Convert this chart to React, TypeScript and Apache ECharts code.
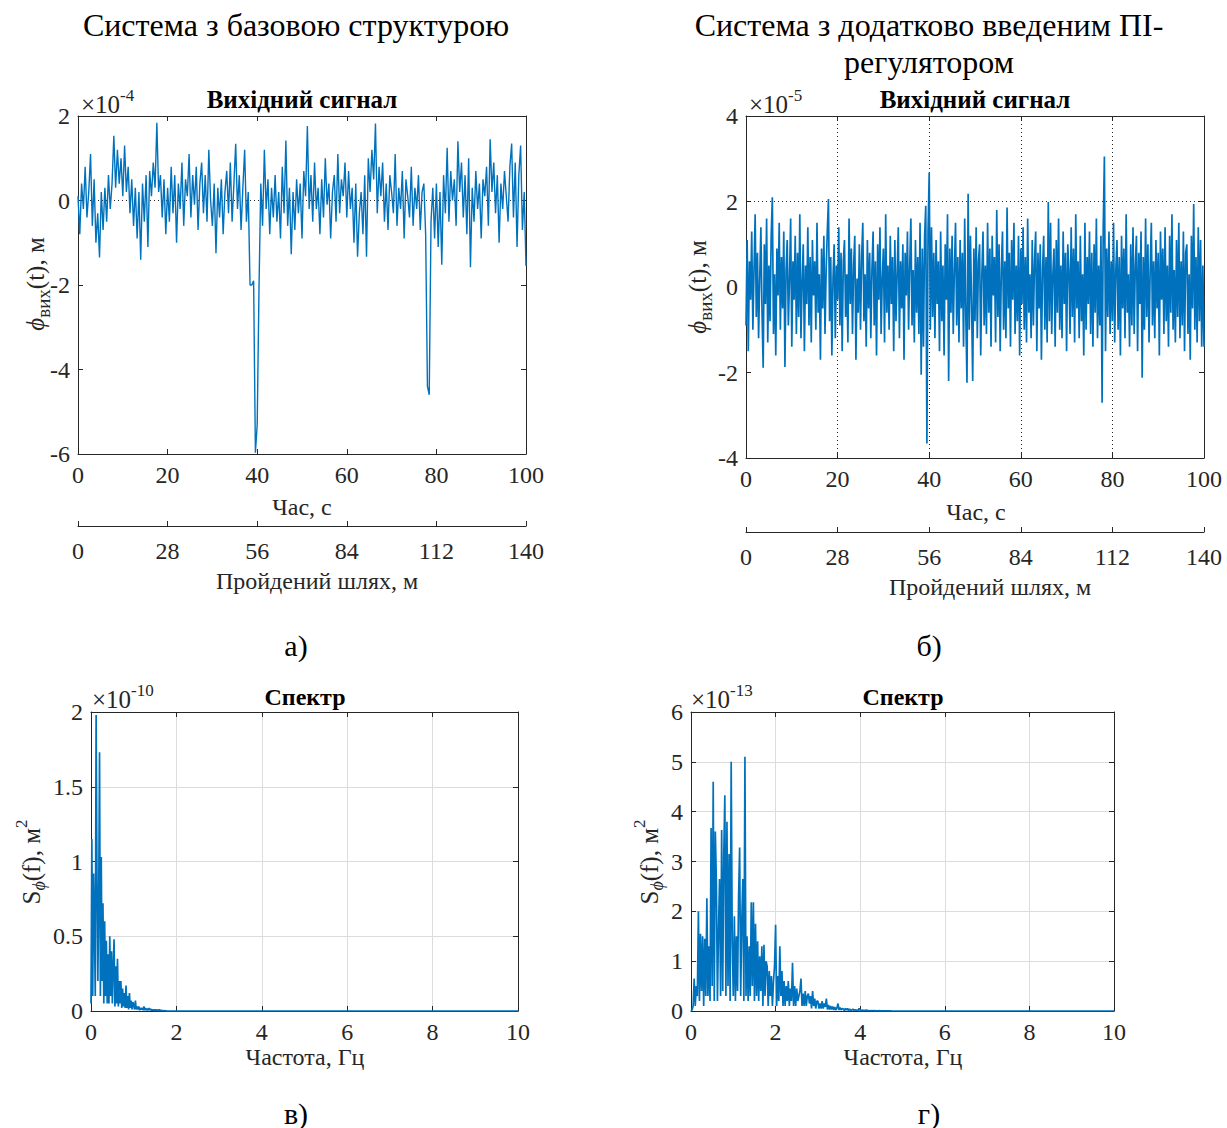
import React, { useEffect, useRef } from "react";
import * as echarts from "echarts";

// ---------- data (values in the units shown on each axis) ----------
// Output signal, base structure (×10^-4 m), sampled every 0.4 s from 0 to 100 s
const baseStep = 0.4;
const outputBase = [
  0.1, -0.8, 0.4, -0.2, 0.8, -0.4, 0.2, 1.1, -0.6, 0.5,
  -1.0, -0.3, -1.35, 0.2, -0.7, 0.3, -0.5, 0.6, -0.2, 0.4,
  1.53, 0.3, 1.2, 0.4, 1.0, 0.1, 1.3, 0.2, 0.8, -0.3,
  0.5, -0.6, 0.3, -0.9, 0.2, -1.4, 0.4, -0.5, 0.6, -1.1,
  0.7, 0.1, 0.9, 0.3, 1.84, 0.2, 0.6, -0.4, 0.5, -0.8,
  0.3, -0.5, 0.8, -0.3, 0.6, -1.0, 0.4, -0.2, 0.9, -0.6,
  0.5, 0.1, 1.1, -0.4, 0.6, -0.1, 0.8, -0.7, 0.4, 0.9,
  -0.3, 0.6, -0.5, 1.2, 0.0, -0.6, 0.4, -1.25, 0.3, -0.4,
  0.5, -0.8, 0.2, 0.7, -0.3, 0.9, -0.5, 0.4, 1.34, -0.2,
  0.6, -0.7, 0.3, 1.2, -0.5, 0.2, -2.0, -2.0, -1.9, -5.97,
  -5.3, -2.1, 0.4, -0.6, 1.2, -0.2, 0.5, -0.8, 0.3, -0.4,
  0.6, -0.5, 0.2, -0.9, 0.8, -0.3, 1.42, -0.6, 0.3, -1.27,
  0.2, -0.7, 0.5, -0.3, 0.4, -0.9, 0.7, 0.1, 1.76, -0.2,
  0.6, -0.5, 0.9, -0.2, 0.3, -0.8, 0.5, -0.4, 1.0, -0.1,
  0.4, -0.9, 0.2, 0.6, -0.5, 1.1, -0.3, 0.5, 0.1, 0.9,
  -0.4, 0.7, -0.2, 0.3, -1.0, 0.4, -1.33, -0.3, 0.2, -0.8,
  0.6, -1.33, 1.0, 0.2, 1.2, 0.5, 1.82, -0.3, 0.8, 0.1,
  0.9, -0.5, 0.4, -0.7, 0.6, 0.2, -0.3, 1.1, -0.6, 0.3,
  -0.2, 0.7, -0.9, 0.5, 0.1, -0.4, 0.8, -0.6, 0.3, -0.2,
  0.6, -0.7, 0.2, 0.4, -0.8, -4.4, -4.6, -0.5, 0.3, -0.9,
  0.4, -1.1, 0.2, -1.52, 0.6, -0.3, 1.25, -0.5, 0.7, 0.0,
  0.5, -0.6, 1.4, 0.2, 0.9, -0.4, 0.6, -0.8, 1.0, -1.58,
  0.3, -0.5, 0.7, -0.2, 0.4, -0.9, 0.5, 0.1, 0.8, -0.6,
  1.45, 0.2, 0.9, -0.3, 0.6, -1.0, 0.4, -0.2, 0.7, 0.1,
  -0.5, 0.8, 1.35, -0.4, 0.9, -1.1, 0.6, 1.3, -0.7, 0.2, -1.55,
];

// Output signal with PI regulator (×10^-5 m), sampled every 0.25 s from 0 to 100 s
const piStep = 0.25;
const outputPI = [
  -0.9, 1.1, -1.5, 0.6, -0.3, 1.3, -1.0, 0.4, 1.7, -0.7,
  0.8, -1.2, 0.2, 1.4, -0.6, -1.89, 1.0, -0.4, 1.6, -1.3,
  0.5, -0.8, 1.2, 2.1, -1.1, 0.3, -1.6, 0.9, -0.2, 1.5,
  -1.0, 0.7, -0.5, 1.3, -1.87, 0.4, 1.1, -0.9, 0.2, 1.6,
  -1.4, 0.6, -0.3, 1.2, -1.1, 0.8, -0.7, 1.7, -1.2, 0.1,
  1.0, -1.5, 0.5, -0.4, 1.4, -0.9, 0.7, -1.3, 1.1, -0.2,
  0.6, -1.0, 1.5, -0.6, 0.3, -1.7, 0.9, -0.5, 1.2, -1.1,
  0.4, 1.3, 2.06, -0.8, 0.7, -1.6, 0.2, 1.0, -1.2, 0.5,
  -0.3, 1.4, -0.9, 0.8, -1.5, 0.6, 1.1, -0.7, 0.3, -1.3,
  1.6, -0.4, 0.9, -1.1, 0.5, 1.2, -1.7, 0.2, -0.6, 1.0,
  -1.0, 0.7, 1.5, -0.8, 0.3, -1.4, 1.1, -0.5, 0.8, -1.2,
  0.4, 1.3, -0.9, 0.6, -1.6, 1.0, -0.3, 1.4, -1.1, 0.2,
  0.9, -1.3, 1.7, -0.6, 0.5, -1.0, 1.2, -0.4, 0.7, -1.5,
  1.1, -0.8, 0.3, 1.4, -1.2, 0.6, -0.5, 1.0, -1.7, 0.8,
  -0.2, 1.3, -1.0, 0.5, 1.6, -0.9, 0.4, -1.3, 1.1, -0.6,
  0.7, -1.1, 1.5, -2.05, 0.9, -1.4, 1.2, 1.9, -3.66, 1.3,
  2.68, -1.0, 1.4, -0.7, 0.8, -1.2, 1.1, -0.4, 0.6, -1.5,
  1.3, -0.8, 0.5, -1.6, 1.0, -0.3, 1.7, -2.2, 0.9, -0.6,
  1.2, -1.1, 0.4, 1.5, -0.9, 0.7, -1.3, 1.1, -0.5, 0.8,
  -1.4, 1.6, -0.7, -2.24, 2.18, -1.0, 1.2, -0.4, -2.2, 0.9,
  -0.8, 1.4, -1.2, 0.6, 1.0, -1.6, 0.3, 1.3, -0.9, 0.5,
  -1.1, 1.5, -0.6, 0.9, -1.4, 1.2, -0.2, 0.7, -1.3, 1.8,
  -0.7, 1.0, -1.5, 0.4, 1.3, -1.0, 0.6, -1.2, 1.86, -0.5,
  0.8, -1.4, 1.1, -0.3, 1.5, -1.1, 0.5, -0.8, 1.2, -1.6,
  0.9, -0.4, 1.4, -1.0, 0.7, -1.3, 1.6, -0.6, 0.3, -1.2,
  1.1, -0.9, 0.6, 1.3, -1.5, 0.8, -0.5, 1.0, -1.7, 0.4,
  1.2, -1.0, 0.7, -1.3, 1.99, -0.8, 1.5, -1.1, 0.3, 0.9,
  -1.4, 1.1, -0.6, 1.6, -1.0, 0.5, -1.2, 1.3, -0.4, 0.8,
  -1.5, 1.0, 0.4, -1.1, 1.4, -0.7, 0.9, -1.3, 1.7, -0.5,
  0.6, -1.2, 1.2, -0.8, 0.3, -1.6, 1.5, -1.0, 0.7, -0.4,
  1.3, -1.1, 0.8, -1.4, 1.0, -0.6, 1.6, -1.2, 0.5, -0.9,
  1.2, -2.71, 1.4, 3.05, -1.5, 0.9, -0.7, 1.3, -1.1, 0.6,
  -0.8, 1.5, -1.3, 0.4, 1.1, -1.0, 0.7, -1.6, 1.2, -0.5,
  0.9, -1.2, 1.7, -0.6, 0.3, -1.4, 1.0, -0.9, 1.4, -1.1,
  0.5, 1.2, -1.5, 0.8, -0.4, 1.3, -2.12, 0.7, -1.0, 1.6,
  -0.7, 1.0, -1.3, 0.4, 1.5, -0.9, 0.6, -1.2, 1.1, -0.5,
  0.8, -1.6, 1.3, -0.3, 0.9, -1.1, 1.4, -0.8, 0.5, -1.4,
  1.2, -0.6, 1.7, -1.0, 0.4, -1.3, 1.1, -0.7, 1.5, -1.2,
  0.6, -0.9, 1.3, -1.5, 0.8, 1.0, -1.1, 0.3, -1.7, 1.2,
  -0.5, 1.94, -1.0, 0.7, -1.3, 1.4, -0.8, 1.1, -1.4, 0.5,
  -1.4,
];

// Spectrum, base structure (×10^-10 m²), every 0.02 Hz from 0 to 1.8 Hz
const specBaseStep = 0.02;
const spectrumBase = [
  0.05, 1.15, 0.1, 0.92, 0.6, 0.1, 1.98, 0.9, 0.2, 0.72,
  1.73, 0.1, 1.03, 0.2, 0.72, 0.05, 0.6, 0.1, 0.47, 0.05,
  0.38, 0.05, 0.5, 0.1, 0.4, 0.05, 0.3, 0.48, 0.03, 0.3,
  0.05, 0.35, 0.03, 0.2, 0.05, 0.2, 0.02, 0.15, 0.03, 0.12,
  0.02, 0.17, 0.02, 0.1, 0.01, 0.12, 0.02, 0.07, 0.01, 0.06,
  0.04, 0.01, 0.07, 0.01, 0.03, 0.01, 0.03, 0.005, 0.02, 0.01,
  0.02, 0.005, 0.03, 0.005, 0.02, 0.005, 0.015, 0.005, 0.02, 0.005,
  0.015, 0.003, 0.01, 0.003, 0.01, 0.002, 0.01, 0.002, 0.008, 0.002,
  0.01, 0.002, 0.005, 0.001, 0.003, 0.001, 0.002, 0.001, 0.001, 0, 0,
];

// Spectrum with PI regulator (×10^-13 m²), every 0.025 Hz from 0 to 4.8 Hz
const specPIStep = 0.025;
const spectrumPI = [
  0, 0.02, 0.1, 0.65, 0.1, 0.5, 0.3, 2.0,
  0.2, 1.55, 0.4, 1.5, 0.1, 1.45, 0.3, 2.26,
  0.3, 1.3, 0.2, 3.67, 0.5, 4.6, 0.2, 3.6,
  2.6, 0.2, 1.6, 2.65, 0.3, 3.63, 0.4, 3.15,
  4.33, 0.3, 3.8, 0.5, 3.15, 0.2, 5.0, 1.4,
  0.3, 1.9, 0.2, 1.5, 0.4, 2.3, 3.28, 0.3,
  1.8, 2.65, 0.2, 5.1, 0.3, 1.5, 0.2, 1.3,
  0.3, 2.18, 0.5, 2.18, 0.2, 1.75, 0.3, 1.4,
  0.2, 1.1, 0.4, 1.3, 0.1, 1.33, 0.3, 1.0,
  0.9, 0.1, 0.8, 0.3, 0.7, 0.1, 0.6, 0.9,
  1.73, 0.1, 0.7, 0.2, 1.3, 0.3, 0.8, 0.1,
  0.6, 0.1, 0.5, 0.2, 0.6, 0.1, 0.45, 0.2,
  0.97, 0.1, 0.5, 0.1, 0.45, 0.2, 0.3, 0.4,
  0.65, 0.1, 0.35, 0.1, 0.4, 0.1, 0.3, 0.35,
  0.15, 0.3, 0.05, 0.4, 0.1, 0.25, 0.05, 0.2,
  0.2, 0.05, 0.15, 0.05, 0.2, 0.05, 0.15, 0.08,
  0.25, 0.03, 0.12, 0.03, 0.1, 0.03, 0.09, 0.02,
  0.08, 0.02, 0.06, 0.15, 0.02, 0.07, 0.02, 0.05,
  0.04, 0.01, 0.05, 0.02, 0.05, 0.01, 0.04, 0.01,
  0.02, 0.04, 0.01, 0.03, 0.01, 0.02, 0.01, 0.05,
  0.02, 0.005, 0.02, 0.005, 0.015, 0.005, 0.02, 0.005,
  0.01, 0.005, 0.01, 0.005, 0.01, 0.004, 0.008, 0.003,
  0.005, 0.003, 0.006, 0.002, 0.004, 0.002, 0.003, 0.001,
  0.002, 0.001, 0.002, 0.001, 0.001, 0.001, 0, 0,
  0,
];

const timeRange = [0, 100];
const timeInterval = 20;
const distanceRange = [0, 140];
const distanceInterval = 28;
const freqRange = [0, 10];
const freqInterval = 2;

const baseYRange = [-6, 2];
const piYRange = [-4, 4];
const specBaseYRange = [0, 2];
const specPIYRange = [0, 6];

// ---------- styling ----------
const FONT = "Liberation Serif";
const TEXT = "#262626";
const BLUE = "#0072BD";
const GRIDLINE = "#dcdcdc";
const TICK_FS = 24;
const NAME_FS = 24;

let measureCtx: CanvasRenderingContext2D | null = null;
function measure(text: string, size: number, italic = false): number {
  if (!measureCtx) measureCtx = document.createElement("canvas").getContext("2d");
  if (!measureCtx) return text.length * size * 0.5;
  measureCtx.font = `${italic ? "italic " : ""}${size}px "${FONT}"`;
  return measureCtx.measureText(text).width;
}

type Piece = { text: string; size: number; dy: number; italic?: boolean };

function pieceRow(cx: number, cy: number, pieces: Piece[], rotate: boolean, anchor: "center" | "left") {
  const widths = pieces.map((p) => measure(p.text, p.size, !!p.italic));
  const total = widths.reduce((a, b) => a + b, 0);
  let x = anchor === "center" ? -total / 2 : 0;
  const children = pieces.map((p, i) => {
    const el = {
      type: "text",
      x,
      y: p.dy,
      style: {
        text: p.text,
        fontFamily: FONT,
        fontSize: p.size,
        fontStyle: p.italic ? "italic" : "normal",
        fill: TEXT,
        align: "left",
        verticalAlign: "middle",
      },
    };
    x += widths[i];
    return el;
  });
  return { type: "group", x: cx, y: cy, rotation: rotate ? Math.PI / 2 : 0, children };
}

function plainText(x: number, y: number, text: string, size: number, opts: any = {}) {
  return {
    type: "text",
    x,
    y,
    style: {
      text,
      fontFamily: FONT,
      fontSize: size,
      fontWeight: opts.bold ? "bold" : "normal",
      fill: opts.fill || "#000",
      align: opts.align || "center",
      verticalAlign: "middle",
    },
  };
}

const axisLineStyle = { show: true, onZero: false, lineStyle: { color: TEXT, width: 1 } };
const tickStyle = { show: true, inside: true, length: 5, lineStyle: { color: TEXT, width: 1 } };
const labelStyle = (margin: number) => ({
  show: true,
  color: TEXT,
  fontFamily: FONT,
  fontSize: TICK_FS,
  margin,
});

function xAxisPair(gridIndex: number, range: number[], interval: number, split: any) {
  return [
    {
      type: "value",
      gridIndex,
      position: "bottom",
      min: range[0],
      max: range[1],
      interval,
      axisLine: axisLineStyle,
      axisTick: tickStyle,
      axisLabel: labelStyle(9),
      splitLine: split,
    },
    {
      type: "value",
      gridIndex,
      position: "top",
      min: range[0],
      max: range[1],
      interval,
      axisLine: axisLineStyle,
      axisTick: tickStyle,
      axisLabel: { show: false },
      splitLine: { show: false },
    },
  ];
}

function yAxisPair(gridIndex: number, range: number[], interval: number, split: any) {
  return [
    {
      type: "value",
      gridIndex,
      position: "left",
      min: range[0],
      max: range[1],
      interval,
      axisLine: axisLineStyle,
      axisTick: tickStyle,
      axisLabel: labelStyle(8),
      splitLine: split,
    },
    {
      type: "value",
      gridIndex,
      position: "right",
      min: range[0],
      max: range[1],
      interval,
      axisLine: axisLineStyle,
      axisTick: tickStyle,
      axisLabel: { show: false },
      splitLine: { show: false },
    },
  ];
}

function distanceAxis(gridIndex: number, offset: number) {
  return {
    type: "value",
    gridIndex,
    position: "bottom",
    offset,
    min: distanceRange[0],
    max: distanceRange[1],
    interval: distanceInterval,
    axisLine: axisLineStyle,
    axisTick: tickStyle,
    axisLabel: labelStyle(13),
    splitLine: { show: false },
  };
}

function hiddenSplitY(gridIndex: number, range: number[], interval: number) {
  return {
    type: "value",
    gridIndex,
    position: "left",
    min: range[0],
    max: range[1],
    interval,
    axisLine: { show: false },
    axisTick: { show: false },
    axisLabel: { show: false },
    splitLine: { show: true, lineStyle: { color: TEXT, width: 1, type: [1, 3] } },
  };
}

const toPairs = (vals: number[], step: number) => vals.map((v, i) => [Math.round(i * step * 1000) / 1000, v]);

function lineSeries(xi: number, yi: number, data: any[], width: number) {
  return {
    type: "line",
    xAxisIndex: xi,
    yAxisIndex: yi,
    data,
    showSymbol: false,
    symbol: "none",
    silent: true,
    z: 3,
    lineStyle: { color: BLUE, width },
    itemStyle: { color: BLUE },
  };
}

export default function App() {
  const ref = useRef<HTMLDivElement>(null);

  useEffect(() => {
    if (!ref.current) return;
    const chart = echarts.init(ref.current, undefined, { renderer: "svg" });

    const noSplit = { show: false };
    const solidSplit = { show: true, lineStyle: { color: GRIDLINE, width: 1 } };
    const dottedSplit = { show: true, lineStyle: { color: TEXT, width: 1, type: [1, 3] } };

    const xAxes = [
      ...xAxisPair(0, timeRange, timeInterval, noSplit), // 0,1
      distanceAxis(0, 72), // 2
      ...xAxisPair(1, timeRange, timeInterval, dottedSplit), // 3,4
      distanceAxis(1, 74), // 5
      ...xAxisPair(2, freqRange, freqInterval, solidSplit), // 6,7
      ...xAxisPair(3, freqRange, freqInterval, solidSplit), // 8,9
    ];
    const yAxes = [
      ...yAxisPair(0, baseYRange, 2, noSplit), // 0,1
      ...yAxisPair(1, piYRange, 2, noSplit), // 2,3
      ...yAxisPair(2, specBaseYRange, 0.5, solidSplit), // 4,5
      ...yAxisPair(3, specPIYRange, 1, solidSplit), // 6,7
      hiddenSplitY(0, baseYRange, 6), // 8 -> dotted line at 0
      hiddenSplitY(1, piYRange, 6), // 9 -> dotted line at 2
    ];

    const specBaseData = toPairs(spectrumBase, specBaseStep).concat([[freqRange[1], 0]]);
    const specPIData = toPairs(spectrumPI, specPIStep).concat([[freqRange[1], 0]]);

    const graphics: any[] = [
      plainText(296, 25, "Система з базовою структурою", 32),
      plainText(929, 25, "Система з додатково введеним ПІ-", 32),
      plainText(929, 62, "регулятором", 32),
      plainText(302, 99, "Вихідний сигнал", 25, { bold: true }),
      plainText(975, 99, "Вихідний сигнал", 25, { bold: true }),
      plainText(305, 697, "Спектр", 24, { bold: true }),
      plainText(903, 697, "Спектр", 24, { bold: true }),
      plainText(296, 645, "а)", 30),
      plainText(929, 645, "б)", 30),
      plainText(296, 1113, "в)", 30),
      plainText(929, 1113, "г)", 30),
      plainText(302, 507, "Час, с", NAME_FS, { fill: TEXT }),
      plainText(976, 512, "Час, с", NAME_FS, { fill: TEXT }),
      plainText(317, 581, "Пройдений шлях, м", NAME_FS, { fill: TEXT }),
      plainText(990, 587, "Пройдений шлях, м", NAME_FS, { fill: TEXT }),
      plainText(305, 1057, "Частота, Гц", NAME_FS, { fill: TEXT }),
      plainText(903, 1057, "Частота, Гц", NAME_FS, { fill: TEXT }),
      // exponent labels
      pieceRow(81, 104, [
        { text: "×10", size: 25, dy: 0 },
        { text: "-4", size: 17, dy: -9 },
      ], false, "left"),
      pieceRow(749, 104, [
        { text: "×10", size: 25, dy: 0 },
        { text: "-5", size: 17, dy: -9 },
      ], false, "left"),
      pieceRow(92, 699, [
        { text: "×10", size: 25, dy: 0 },
        { text: "-10", size: 17, dy: -9 },
      ], false, "left"),
      pieceRow(691, 699, [
        { text: "×10", size: 25, dy: 0 },
        { text: "-13", size: 17, dy: -9 },
      ], false, "left"),
      // rotated y-axis names
      pieceRow(35, 284, [
        { text: "ϕ", size: 25, dy: 0, italic: true },
        { text: "вих", size: 19, dy: 8 },
        { text: "(t), м", size: 25, dy: 0 },
      ], true, "center"),
      pieceRow(697, 287, [
        { text: "ϕ", size: 25, dy: 0, italic: true },
        { text: "вих", size: 19, dy: 8 },
        { text: "(t), м", size: 25, dy: 0 },
      ], true, "center"),
      pieceRow(31, 862, [
        { text: "S", size: 25, dy: 0 },
        { text: "ϕ", size: 18, dy: 8, italic: true },
        { text: "(f), м", size: 25, dy: 0 },
        { text: "2", size: 17, dy: -10 },
      ], true, "center"),
      pieceRow(649, 862, [
        { text: "S", size: 25, dy: 0 },
        { text: "ϕ", size: 18, dy: 8, italic: true },
        { text: "(f), м", size: 25, dy: 0 },
        { text: "2", size: 17, dy: -10 },
      ], true, "center"),
    ];

    chart.setOption({
      animation: false,
      backgroundColor: "#ffffff",
      textStyle: { fontFamily: FONT },
      grid: [
        { left: 78, top: 116, width: 448, height: 338, outerBoundsMode: "none" },
        { left: 746, top: 116, width: 458, height: 342, outerBoundsMode: "none" },
        { left: 91, top: 712, width: 427, height: 299, outerBoundsMode: "none" },
        { left: 691, top: 712, width: 423, height: 299, outerBoundsMode: "none" },
      ],
      xAxis: xAxes,
      yAxis: yAxes,
      series: [
        lineSeries(0, 0, toPairs(outputBase, baseStep), 1.4),
        lineSeries(3, 2, toPairs(outputPI, piStep), 1.7),
        lineSeries(6, 4, specBaseData, 1.7),
        lineSeries(8, 6, specPIData, 1.7),
      ],
      graphic: graphics,
    });

    return () => chart.dispose();
  }, []);

  return (
    <div
      ref={ref}
      style={{ position: "absolute", left: 0, top: 0, width: 1227, height: 1128, background: "#fff" }}
    />
  );
}
